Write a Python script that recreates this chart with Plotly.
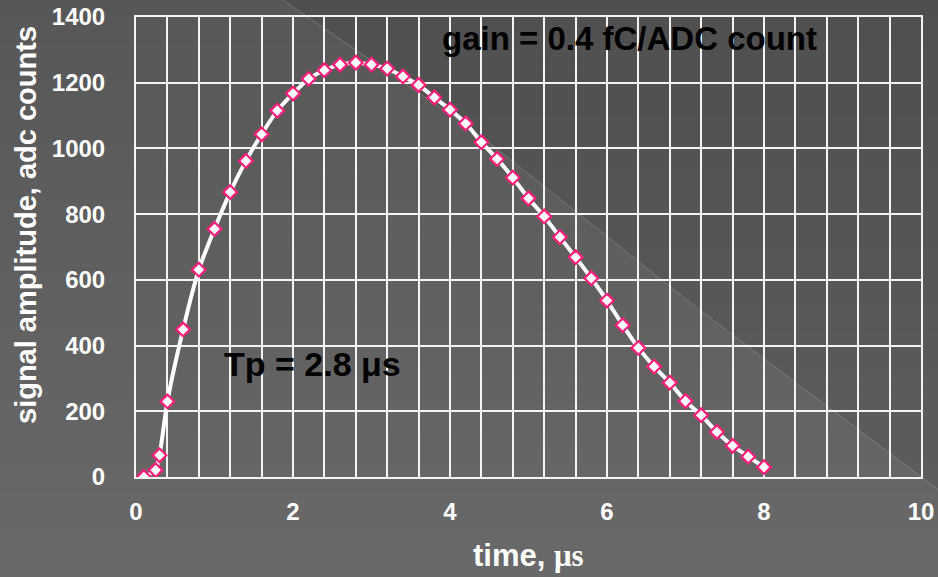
import plotly.graph_objects as go

# Sampled pulse: time (µs) and signal amplitude (ADC counts)
time_us = [0.1, 0.25, 0.3, 0.4, 0.6, 0.8, 1.0, 1.2, 1.4, 1.6, 1.8, 2.0, 2.2, 2.4,
           2.6, 2.8, 3.0, 3.2, 3.4, 3.6, 3.8, 4.0, 4.2, 4.4, 4.6, 4.8, 5.0, 5.2,
           5.4, 5.6, 5.8, 6.0, 6.2, 6.4, 6.6, 6.8, 7.0, 7.2, 7.4, 7.6, 7.8, 8.0]
amplitude = [0, 21, 66, 230, 449, 631, 755, 867, 962, 1043, 1115, 1167, 1212, 1238,
             1255, 1261, 1255, 1243, 1219, 1193, 1155, 1118, 1076, 1019, 968, 911, 848, 793,
             730, 669, 605, 537, 462, 393, 336, 287, 231, 188, 137, 95, 62, 30]

x_ticks = [0, 2, 4, 6, 8, 10]
y_ticks = [0, 200, 400, 600, 800, 1000, 1200, 1400]

W, H = 938, 577
L, R, T, B = 136, 17, 17, 100
PW, PH = W - L - R, H - T - B


def px(x, y):
    """Pixel position -> paper coordinates."""
    return (x - L) / PW, (H - B - y) / PH


fig = go.Figure()

fig.add_trace(go.Scatter(
    x=time_us, y=amplitude, mode="lines+markers",
    line=dict(color="white", width=4, shape="spline", smoothing=0.6),
    marker=dict(symbol="diamond", size=10.5, color="white",
                line=dict(color="#FF1E78", width=2.2)),
    showlegend=False, hoverinfo="x+y",
))

# background: soft vertical gradient
shapes = []
n = 40
c0, c1 = 0x57, 0x69
for i in range(n):
    y0p = i * H / n
    y1p = (i + 1) * H / n + 1
    c = round(c0 + (c1 - c0) * (i + 0.5) / n)
    col = f"rgb({c},{c},{c})"
    xa, ya = px(0, y0p)
    xb, yb = px(W, y1p)
    shapes.append(dict(type="rect", xref="paper", yref="paper",
                       x0=xa, x1=xb, y0=yb, y1=ya, layer="below",
                       fillcolor=col, line=dict(width=0)))

# darker upper-right wedge with a faint edge
edge = [(283, 0), (477, 133), (683, 297), (792, 380), (960, 506)]
pts = [px(*p) for p in edge] + [px(960, 0)]
path = "M " + " L ".join(f"{a:.5f},{b:.5f}" for a, b in pts) + " Z"
shapes.append(dict(type="path", xref="paper", yref="paper", path=path, layer="below",
                   fillcolor="rgba(0,0,0,0.09)", line=dict(width=0)))
epts = [px(*p) for p in edge]
epath = "M " + " L ".join(f"{a:.5f},{b:.5f}" for a, b in epts)
shapes.append(dict(type="path", xref="paper", yref="paper", path=epath, layer="below",
                   line=dict(color="rgba(150,150,150,0.5)", width=1)))

font = "Liberation Sans, Arial, sans-serif"
grid = dict(gridcolor="#f4f4f4", gridwidth=2)

yt_x, yt_y = px(26, 225)
xt_x, xt_y = px(528.5, 555)

fig.update_layout(
    width=W, height=H,
    margin=dict(l=L, r=R, t=T, b=B, autoexpand=False),
    paper_bgcolor="#606060", plot_bgcolor="rgba(0,0,0,0)",
    shapes=shapes,
    font=dict(family=font, color="white"),
    xaxis=dict(range=[0, 10], tickvals=x_ticks, showgrid=True, **grid,
               minor=dict(dtick=0.4, tick0=0, showgrid=True, **grid),
               showline=True, linecolor="#f4f4f4", linewidth=2, mirror=True,
               zeroline=False, ticks="", ticklabelstandoff=12, automargin=False,
               tickfont=dict(family=font, size=24, color="white", weight="bold")),
    yaxis=dict(range=[0, 1400], tickvals=y_ticks, showgrid=True, **grid,
               showline=True, linecolor="#f4f4f4", linewidth=2, mirror=True,
               zeroline=False, ticks="", ticklabelstandoff=24, automargin=False,
               tickfont=dict(family=font, size=24, color="white", weight="bold")),
    annotations=[
        dict(text="signal amplitude, adc counts", xref="paper", yref="paper",
             x=yt_x, y=yt_y, textangle=-90, showarrow=False,
             xanchor="center", yanchor="middle",
             font=dict(family=font, size=29, color="white", weight="bold")),
        dict(text="time, <span style='font-family:Liberation Serif, Times New Roman, serif'>μs</span>",
             xref="paper", yref="paper", x=xt_x, y=xt_y, showarrow=False,
             xanchor="center", yanchor="middle",
             font=dict(family=font, size=31, color="white", weight="bold")),
        dict(text="gain = 0.4 fC/ADC count", x=3.87, y=1335, xref="x", yref="y",
             showarrow=False, xanchor="left", yanchor="middle",
             font=dict(family=font, size=33, color="black", weight="bold")),
        dict(text="Tp = 2.8 μs", x=1.096, y=344, xref="x", yref="y",
             showarrow=False, xanchor="left", yanchor="middle",
             font=dict(family=font, size=34, color="black", weight="bold")),
    ],
)

fig.write_html("out.html")
